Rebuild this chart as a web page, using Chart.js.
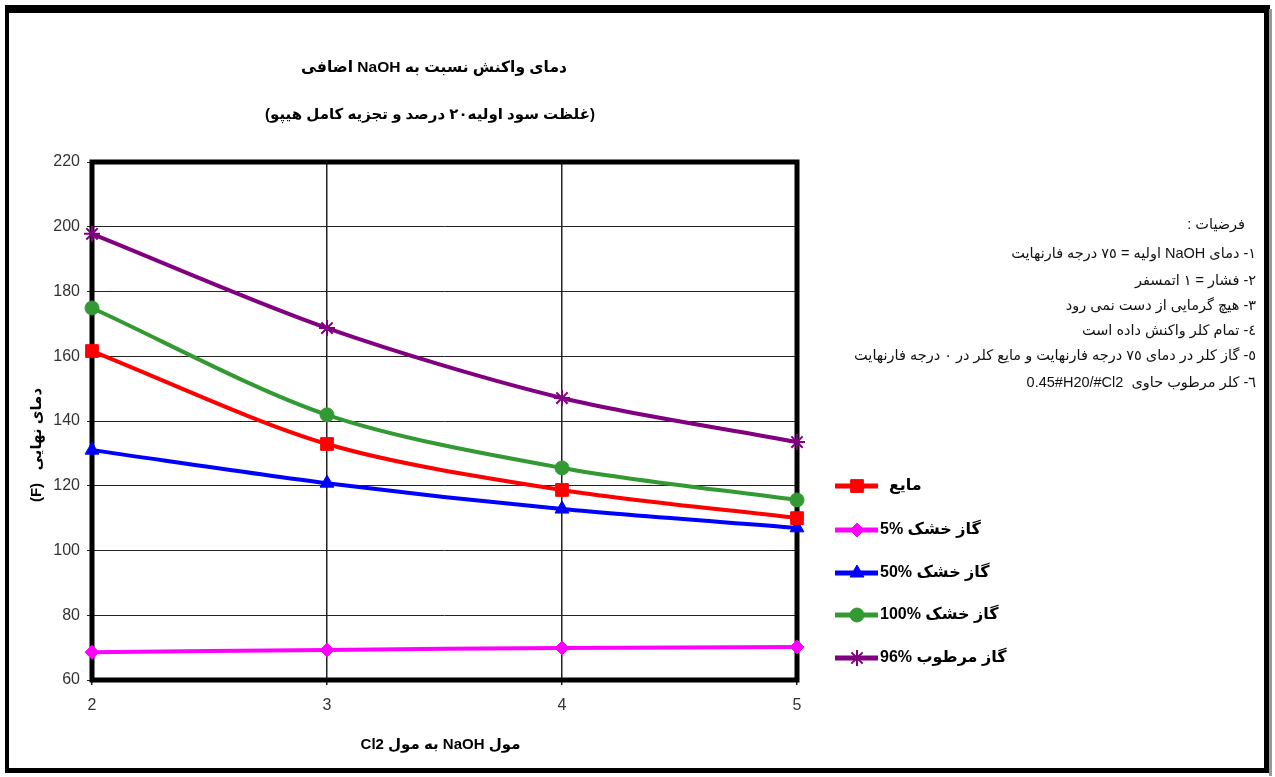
<!DOCTYPE html>
<html>
<head>
<meta charset="utf-8">
<script src="https://cdn.jsdelivr.net/npm/chart.js@4.4.1/dist/chart.umd.min.js"></script>
<style>
  html, body { margin: 0; padding: 0; background: #fff; }
  #wrap { position: relative; width: 1275px; height: 777px; }
  canvas { display: block; }
</style>
</head>
<body>
<div id="wrap"><canvas id="c" width="1275" height="777"></canvas></div>
<script>
// Mole ratio NaOH / Cl2 on the x axis
const xLabels = ['2', '3', '4', '5'];

// Final temperature (F) for each feed condition
const liquidCl2 = [161.6, 132.9, 118.7, 110.0];
const dryGas5   = [68.6, 69.3, 69.9, 70.2];
const dryGas50  = [131.0, 120.8, 112.8, 107.0];
const dryGas100 = [174.9, 141.9, 125.5, 115.6];
const wetGas96  = [197.8, 168.7, 147.1, 133.5];

// LTR isolates keep percentages and formulas readable inside RTL text
const LRI = '\u2066', PDI = '\u2069';
const seriesNames = [
  'مایع  ',
  'گاز خشک ' + LRI + '5%' + PDI,
  'گاز خشک ' + LRI + '50%' + PDI,
  'گاز خشک ' + LRI + '100%' + PDI,
  'گاز مرطوب ' + LRI + '96%' + PDI
];

const yMin = 60, yMax = 220, yStep = 20;

const titleLines = [
  'دمای واکنش نسبت به NaOH اضافی',
  '(غلظت سود اولیه۲۰ درصد و تجزیه کامل هیپو)'
];
const xTitle = 'مول NaOH به مول Cl2';
const yTitle = 'دمای نهایی   (F)';

const notesHeader = 'فرضیات :';
const notes = [
  '١- دمای NaOH اولیه = ٧٥ درجه فارنهایت',
  '٢- فشار = ١ اتمسفر',
  '٣- هیچ گرمایی از دست نمی رود',
  '٤- تمام کلر واکنش داده است',
  '٥- گاز کلر در دمای ٧٥ درجه فارنهایت و مایع کلر در ٠ درجه فارنهایت',
  '٦- کلر مرطوب حاوی  ' + LRI + '0.45#H20/#Cl2' + PDI
];

const FONT = '"Liberation Sans", "DejaVu Sans", Arial, sans-serif';

function series(label, data, color, pointStyle, radius) {
  return {
    label, data,
    borderColor: color,
    backgroundColor: color,
    pointBackgroundColor: color,
    pointBorderColor: color,
    pointStyle,
    pointRadius: radius,
    pointHoverRadius: radius,
    pointBorderWidth: pointStyle === 'star' ? 2 : 1,
    borderWidth: 4,
    tension: 0.3,
    fill: false,
    clip: false
  };
}

// Thick frame around the plotting area, drawn under the lines
const plotFrame = {
  id: 'plotFrame',
  beforeDatasetsDraw(chart) {
    const { ctx, chartArea: a } = chart;
    ctx.save();
    ctx.strokeStyle = '#000';
    ctx.lineWidth = 5;
    ctx.strokeRect(a.left, a.top, a.right - a.left, a.bottom - a.top);
    ctx.restore();
  }
};

// Titles, notes, legend and outer border
const annotations = {
  id: 'annotations',
  afterDraw(chart) {
    const { ctx, chartArea: a } = chart;
    ctx.save();

    // outer page frame
    ctx.fillStyle = '#000';
    ctx.fillRect(5, 5, 1265, 8);
    ctx.fillRect(5, 5, 4, 768);
    ctx.fillRect(1264, 5, 5, 768);
    ctx.fillRect(5, 768, 1264, 5);
    ctx.fillStyle = '#999';
    ctx.fillRect(1269, 9, 3, 767);

    ctx.fillStyle = '#000';
    ctx.direction = 'rtl';
    ctx.textBaseline = 'middle';

    // chart title
    ctx.textAlign = 'center';
    ctx.font = 'bold 15.5px ' + FONT;
    ctx.fillText(titleLines[0], 434, 68);
    ctx.font = 'bold 15px ' + FONT;
    ctx.fillText(titleLines[1], 430, 115);

    // x axis title
    ctx.font = 'bold 15px ' + FONT;
    ctx.fillText(xTitle, (a.left + a.right) / 2 - 4, 745);

    // y axis title
    ctx.save();
    ctx.translate(37, 445);
    ctx.rotate(-Math.PI / 2);
    ctx.fillText(yTitle, 0, 0);
    ctx.restore();

    // assumptions
    ctx.textAlign = 'right';
    ctx.font = '14.5px ' + FONT;
    ctx.fillStyle = '#111';
    ctx.fillText(notesHeader, 1245, 225);
    const noteY = [254, 281, 306, 331, 356, 383];
    notes.forEach((t, i) => ctx.fillText(t, 1256, noteY[i]));

    // legend
    const legendY = [486, 530, 573, 615, 658];
    ctx.font = 'bold 16px ' + FONT;
    chart.data.datasets.forEach((ds, i) => {
      const y = legendY[i];
      ctx.strokeStyle = ds.borderColor;
      ctx.lineWidth = 5;
      ctx.beginPath();
      ctx.moveTo(835, y);
      ctx.lineTo(878, y);
      ctx.stroke();
      ctx.fillStyle = ds.pointBackgroundColor;
      ctx.strokeStyle = ds.pointBorderColor;
      ctx.lineWidth = ds.pointBorderWidth;
      Chart.helpers.drawPoint(ctx, {
        pointStyle: ds.pointStyle, radius: ds.pointRadius, rotation: 0, borderWidth: ds.pointBorderWidth
      }, 857, y);
      ctx.fillStyle = '#000';
      ctx.direction = 'rtl';
      ctx.textAlign = 'left';
      ctx.fillText(ds.label, 880, y);
    });

    ctx.restore();
  }
};

new Chart(document.getElementById('c'), {
  type: 'line',
  data: {
    labels: xLabels,
    datasets: [
      series(seriesNames[0], liquidCl2, '#ff0000', 'rect', 9),
      series(seriesNames[1], dryGas5, '#ff00ff', 'rectRot', 7),
      series(seriesNames[2], dryGas50, '#0000ff', 'triangle', 8),
      series(seriesNames[3], dryGas100, '#339933', 'circle', 7),
      series(seriesNames[4], wetGas96, '#800080', 'star', 8)
    ]
  },
  options: {
    responsive: false,
    animation: false,
    devicePixelRatio: 1,
    layout: { padding: { left: 0, top: 162, right: 478, bottom: 0 } },
    plugins: {
      legend: { display: false },
      title: { display: false },
      tooltip: { enabled: false }
    },
    scales: {
      x: {
        type: 'category',
        offset: false,
        border: { display: false },
        grid: { color: '#222', lineWidth: 1.5, tickLength: 5, drawTicks: true },
        ticks: { color: '#333', font: { family: FONT, size: 16 }, padding: 11, maxRotation: 0 },
        afterFit(scale) { scale.height = 97; }
      },
      y: {
        min: yMin, max: yMax,
        border: { display: false },
        grid: { color: '#222', lineWidth: 1, tickLength: 5 },
        ticks: { stepSize: yStep, color: '#333', font: { family: FONT, size: 16 }, padding: 7 },
        afterFit(scale) { scale.width = 92; }
      }
    }
  },
  plugins: [plotFrame, annotations]
});
</script>
</body>
</html>
